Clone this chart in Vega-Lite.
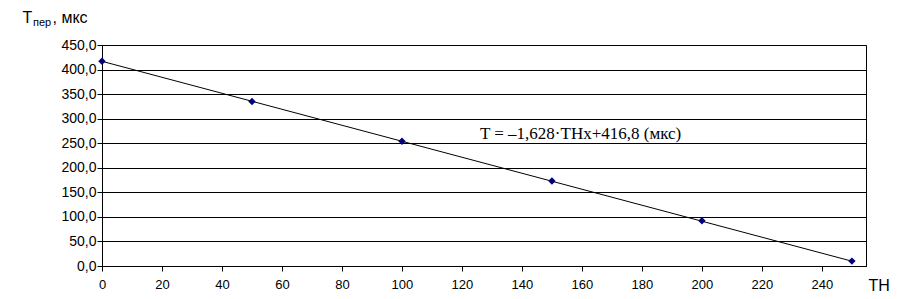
{
  "$schema": "https://vega.github.io/schema/vega-lite/v6.json",
  "width": 764,
  "height": 221,
  "autosize": {"type": "none"},
  "padding": {"left": 102, "top": 45, "right": 38, "bottom": 33},
  "background": "white",
  "config": {
    "view": {"stroke": "black", "strokeWidth": 1},
    "font": "Liberation Sans",
    "axis": {
      "labelFont": "Liberation Sans",
      "titleFont": "Liberation Sans",
      "labelColor": "black",
      "titleColor": "black",
      "tickColor": "black",
      "domainColor": "black",
      "titleFontWeight": "normal"
    }
  },
  "datasets": {
    "pts": [
      {"TH": 0, "T": 417},
      {"TH": 50, "T": 335},
      {"TH": 100, "T": 254},
      {"TH": 150, "T": 173},
      {"TH": 200, "T": 92},
      {"TH": 250, "T": 10}
    ],
    "fit": [
      {"TH": 0, "T": 416.8},
      {"TH": 250, "T": 9.8}
    ],
    "note": [
      {"TH": 126, "T": 257.6, "label": "T = –1,628·THx+416,8 (мкс)"}
    ]
  },
  "resolve": {"axis": {"x": "independent", "y": "independent"}},
  "layer": [
    {
      "data": {"name": "fit"},
      "mark": {"type": "line", "color": "black", "strokeWidth": 1},
      "encoding": {
        "x": {
          "field": "TH", "type": "quantitative",
          "scale": {"domain": [0, 254.7], "nice": false, "zero": false},
          "axis": {
            "orient": "bottom",
            "values": [0, 20, 40, 60, 80, 100, 120, 140, 160, 180, 200, 220, 240],
            "grid": false,
            "tickSize": 5,
            "labelFontSize": 13,
            "labelPadding": 7,
            "labelDx": 3,
            "labelFlush": false,
            "title": "TH",
            "titleFontSize": 16,
            "titleAlign": "left",
            "titleBaseline": "alphabetic",
            "titleX": 766,
            "titleY": 24
          }
        },
        "y": {
          "field": "T", "type": "quantitative",
          "scale": {"domain": [0, 450], "nice": false},
          "axis": {
            "orient": "left",
            "values": [0, 50, 100, 150, 200, 250, 300, 350, 400, 450],
            "labelExpr": "replace(format(datum.value, '.1f'), '.', ',')",
            "grid": true,
            "gridColor": "black",
            "gridOpacity": 1,
            "gridWidth": 1,
            "tickSize": 5,
            "labelFontSize": 14,
            "labelPadding": 1,
            "labelDy": 1,
            "labelFlush": false,
            "title": "T",
            "titleAngle": 0,
            "titleFontSize": 16,
            "titleAlign": "left",
            "titleBaseline": "alphabetic",
            "titleX": -80,
            "titleY": -23
          }
        }
      }
    },
    {
      "data": {"name": "pts"},
      "mark": {"type": "point", "shape": "diamond", "filled": true, "color": "#000080", "size": 55, "opacity": 1},
      "encoding": {
        "x": {"field": "TH", "type": "quantitative", "axis": null},
        "y": {
          "field": "T", "type": "quantitative",
          "axis": {
            "orient": "right",
            "domain": false,
            "ticks": false,
            "labels": false,
            "grid": false,
            "title": "пер",
            "titleAngle": 0,
            "titleFontSize": 11,
            "titleAlign": "left",
            "titleBaseline": "alphabetic",
            "titleX": -833.5,
            "titleY": -20
          }
        }
      }
    },
    {
      "data": {"name": "note"},
      "mark": {"type": "text", "font": "Liberation Serif", "fontSize": 17, "align": "left", "baseline": "alphabetic", "color": "black"},
      "encoding": {
        "x": {
          "field": "TH", "type": "quantitative",
          "axis": {
            "orient": "top",
            "domain": false,
            "ticks": false,
            "labels": false,
            "grid": false,
            "title": ", мкс",
            "titleFontSize": 16,
            "titleAlign": "left",
            "titleBaseline": "alphabetic",
            "titleX": -50,
            "titleY": -23
          }
        },
        "y": {"field": "T", "type": "quantitative", "axis": null},
        "text": {"field": "label"}
      }
    }
  ]
}
